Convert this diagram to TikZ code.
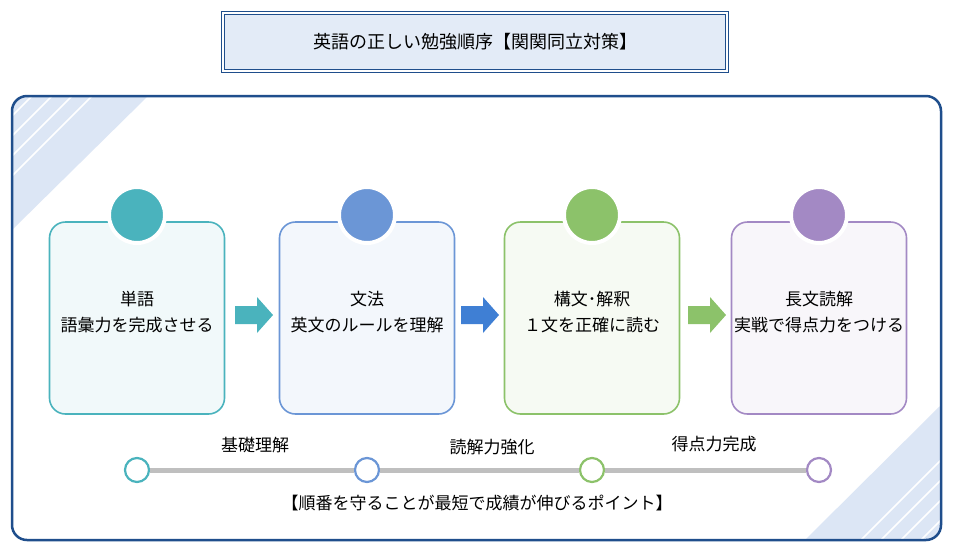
\documentclass[tikz,border=0pt]{standalone}
\usepackage{fontspec}
\newfontfamily\cjk{Noto Sans CJK JP}
\definecolor{frame}{HTML}{1F4E8C}
\definecolor{tri}{HTML}{DCE6F5}
\definecolor{cA}{HTML}{4AB3BD}\definecolor{cB}{HTML}{6B96D6}
\definecolor{cC}{HTML}{8CC26A}\definecolor{cD}{HTML}{A389C4}
\definecolor{aB}{HTML}{3F7FD4}
\tikzset{
 card/.style={draw=#1,line width=1.6pt,fill=#1!8,rounded corners=16pt,minimum width=175pt,minimum height=192pt,inner sep=0pt},
 dot/.style={circle,fill=#1,draw=white,line width=4pt,minimum size=56pt,inner sep=0pt},
 ring/.style={circle,draw=#1,line width=2.2pt,fill=white,minimum size=24pt,inner sep=0pt},
 txt/.style={font=\cjk\fontsize{17pt}{26pt}\selectfont,align=center}
}
\newcommand\bigarrow[2]{\fill[#2] ($(#1)+(-19,-9)$) -- ++(22,0) -- ++(0,-9) -- ++(16,18) -- ++(-16,18) -- ++(0,-9) -- ++(-22,0) -- cycle;}
\usetikzlibrary{calc}
\begin{document}
\begin{tikzpicture}[x=1pt,y=-1pt]
\useasboundingbox (0,0) rectangle (954,550);
\fill[white] (0,0) rectangle (954,550);
% title
\node[draw=frame,double=white,double distance=1.5pt,line width=0.8pt,fill=tri!80,minimum width=504pt,minimum height=58pt,font=\cjk\fontsize{18pt}{22pt}\selectfont] (title) at (475,42) {英語の正しい勉強順序【関関同立対策】};
% frame decorations
\begin{scope}
\clip[rounded corners=15pt] (12,96) rectangle (941,540);
\fill[tri] (12,96) -- (148,96) -- (12,230) -- cycle;
\foreach \d in {20,40,60,80}{\draw[white,line width=1.5pt] (12+\d,96) -- (12,96+\d);}
\fill[tri] (941,405) -- (941,540) -- (805,540) -- cycle;
\foreach \d in {20,40,60,80}{\draw[white,line width=1.5pt] (941,540-\d) -- (941-\d,540);}
\end{scope}
\draw[frame,line width=2.5pt,rounded corners=15pt] (12,96) rectangle (941,540);
% cards
\foreach \n/\x/\c/\t in {a/137/cA/{単語\\語彙力を完成させる},b/367/cB/{文法\\英文のルールを理解},c/592/cC/{構文･解釈\\１文を正確に読む},d/819/cD/{長文読解\\実戦で得点力をつける}}{
 \node[card=\c] (card\n) at (\x,318) {};
 \node[dot=\c] (dot\n) at (\x,215) {};
 \node[txt] (t\n) at (\x,312) {\t};
}
\coordinate (ar1) at (254,315);
\coordinate (ar2) at (480,315);
\coordinate (ar3) at (707,315);
\bigarrow{ar1}{cA}
\bigarrow{ar2}{aB}
\bigarrow{ar3}{cC}
% timeline
\node[ring=cA] (r1) at (137,470) {};
\node[ring=cB] (r2) at (367,470) {};
\node[ring=cC] (r3) at (592,470) {};
\node[ring=cD] (r4) at (819,470) {};
\draw[black!25,line width=5pt] (r1) -- (r2) (r2) -- (r3) (r3) -- (r4);
\node[txt] (l1) at (255,445) {基礎理解};
\node[txt] (l2) at (492,447) {読解力強化};
\node[txt] (l3) at (714,444) {得点力完成};
\node[txt] (foot) at (477,503) {【順番を守ることが最短で成績が伸びるポイント】};
\end{tikzpicture}
\end{document}
